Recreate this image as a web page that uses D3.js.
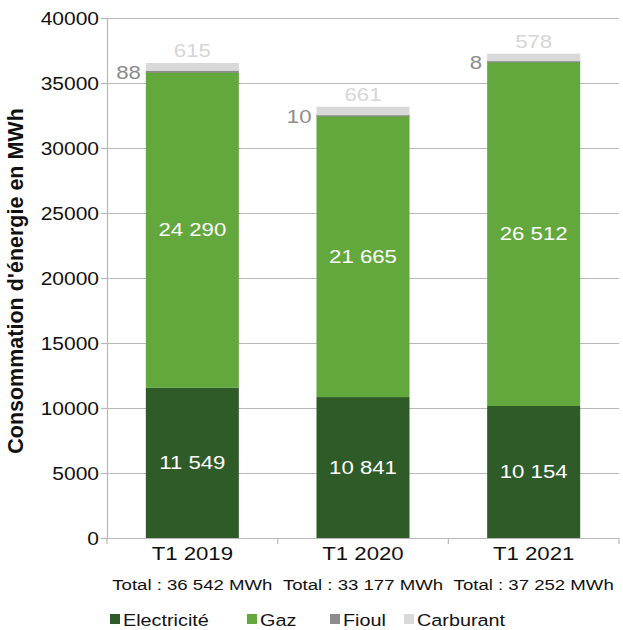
<!DOCTYPE html>
<html>
<head>
<meta charset="utf-8">
<script src="https://cdn.jsdelivr.net/npm/d3@7/dist/d3.min.js"></script>
<style>
  html, body { margin: 0; padding: 0; background: #fff; }
  svg { display: block; font-family: "Liberation Sans", Arial, Helvetica, sans-serif; }
</style>
</head>
<body>
<svg id="chart" width="623" height="630"></svg>
<script>
// ---- Data ----
const categories = ["T1 2019", "T1 2020", "T1 2021"];
const seriesNames = ["Electricité", "Gaz", "Fioul", "Carburant"];
const electricite = [11549, 10841, 10154];
const gaz = [24290, 21665, 26512];
const fioul = [88, 10, 8];
const carburant = [615, 661, 578];
const totals = ["Total : 36 542 MWh", "Total : 33 177 MWh", "Total : 37 252 MWh"];
const yTicks = [0, 5000, 10000, 15000, 20000, 25000, 30000, 35000, 40000];
const yTitle = "Consommation d'énergie en MWh";

(function () {
// ---- Styles ----
const colors = ["#2f5b28", "#63a83c", "#8c8c8c", "#d9d9d9"];
const SX = 1.2; // horizontal stretch of text as in reference
const gridColor = "#b8b8b8";

const svg = d3.select("#chart");
const pLeft = 107, pRight = 619, pTop = 18, pBottom = 538;

const x = d3.scaleBand().domain(categories).range([pLeft, pRight])
  .paddingInner(0.455).paddingOuter(0.2275);
const y = d3.scaleLinear().domain([0, 40000]).range([pBottom, pTop]);

const fmt = d3.format(",");
const frFmt = v => fmt(v).replace(/,/g, " ");

function stretchedText(g, px, py, txt, opts) {
  const t = g.append("text")
    .attr("transform", `translate(${px},${py}) scale(${SX},1)`)
    .attr("text-anchor", opts.anchor || "middle")
    .attr("font-size", opts.size)
    .attr("fill", opts.fill || "#111")
    .text(txt);
  if (opts.weight) t.attr("font-weight", opts.weight);
  if (opts.baseline) t.attr("dominant-baseline", opts.baseline);
  return t;
}

// gridlines
svg.append("g").selectAll("line").data(yTicks.filter(d => d > 0)).join("line")
  .attr("x1", pLeft).attr("x2", pRight)
  .attr("y1", d => Math.round(y(d)) + 0.5).attr("y2", d => Math.round(y(d)) + 0.5)
  .attr("stroke", gridColor).attr("stroke-width", 1.2);

// y axis
const yAxis = svg.append("g").attr("transform", `translate(${pLeft},0)`)
  .call(d3.axisLeft(y).tickValues(yTicks).tickFormat(d3.format("d")).tickSize(6).tickSizeOuter(0));
yAxis.select(".domain").attr("stroke", gridColor).attr("stroke-width", 1.2);
yAxis.selectAll(".tick line").attr("stroke", gridColor).attr("stroke-width", 1.2);
yAxis.selectAll(".tick text")
  .attr("font-size", 17.5).attr("fill", "#111")
  .attr("font-family", "Liberation Sans, Arial, sans-serif")
  .attr("x", -8 / SX).attr("dy", "0.36em")
  .attr("transform", `scale(${SX},1)`);

// stacked data
const rows = categories.map((c, i) => ({
  cat: c, "Electricité": electricite[i], "Gaz": gaz[i], "Fioul": fioul[i], "Carburant": carburant[i]
}));
const stack = d3.stack().keys(seriesNames)(rows);

const barsG = svg.append("g");
stack.forEach((layer, li) => {
  barsG.append("g").selectAll("rect").data(layer).join("rect")
    .attr("x", d => x(d.data.cat))
    .attr("width", x.bandwidth())
    .attr("y", d => {
      const h = y(d[0]) - y(d[1]);
      return li === 2 ? (y(d[0]) + y(d[1])) / 2 - Math.max(h, 2.4) / 2 : y(d[1]);
    })
    .attr("height", d => {
      const h = y(d[0]) - y(d[1]);
      return li === 2 ? Math.max(h, 2.4) : h;
    })
    .attr("fill", colors[li]);
});

// x axis
const xAxisG = svg.append("g");
xAxisG.append("line").attr("x1", pLeft).attr("x2", pRight)
  .attr("y1", pBottom + 0.5).attr("y2", pBottom + 0.5)
  .attr("stroke", gridColor).attr("stroke-width", 1.2);
const bounds = [pLeft].concat(categories.map(c => x(c) + x.bandwidth() + x.step() * x.paddingInner() / 2));
bounds[bounds.length - 1] = pRight;
xAxisG.selectAll(".xt").data(bounds).join("line")
  .attr("x1", d => d).attr("x2", d => d)
  .attr("y1", pBottom).attr("y2", pBottom + 6)
  .attr("stroke", gridColor).attr("stroke-width", 1.2);

const labelsG = svg.append("g");
categories.forEach((c, i) => {
  const cx = x(c) + x.bandwidth() / 2;
  stretchedText(labelsG, cx, 560, c, { size: 18.5 });
  stretchedText(labelsG, cx, 590, totals[i], { size: 15.5 });
});

// value labels
stack.forEach((layer, li) => {
  layer.forEach((d, i) => {
    const cx = x(d.data.cat) + x.bandwidth() / 2;
    const v = d[1] - d[0];
    if (li <= 1) {
      stretchedText(labelsG, cx, (y(d[0]) + y(d[1])) / 2, frFmt(v),
        { size: 18.5, fill: "#ffffff", baseline: "central" });
    } else if (li === 2) {
      stretchedText(labelsG, x(d.data.cat) - 5, (y(d[0]) + y(d[1])) / 2 + 1, frFmt(v),
        { size: 18.5, fill: "#8c8c8c", anchor: "end", baseline: "central" });
    } else {
      stretchedText(labelsG, cx, y(d[1]) - 6, frFmt(v),
        { size: 18.5, fill: "#d6d6d6" });
    }
  });
});

// y title
svg.append("text")
  .attr("transform", `translate(23,${(106 + 456) / 2}) rotate(-90)`)
  .attr("text-anchor", "middle")
  .attr("font-size", 21.5).attr("font-weight", "bold").attr("fill", "#111")
  .text(yTitle);

// legend
const legendX = [110, 247, 330, 404];
const legendG = svg.append("g");
seriesNames.forEach((s, i) => {
  legendG.append("rect").attr("x", legendX[i]).attr("y", 614).attr("width", 10).attr("height", 10)
    .attr("fill", colors[i]);
  stretchedText(legendG, legendX[i] + 13, 625.5, s, { size: 16.5, anchor: "start" });
});
})();
</script>
</body>
</html>
